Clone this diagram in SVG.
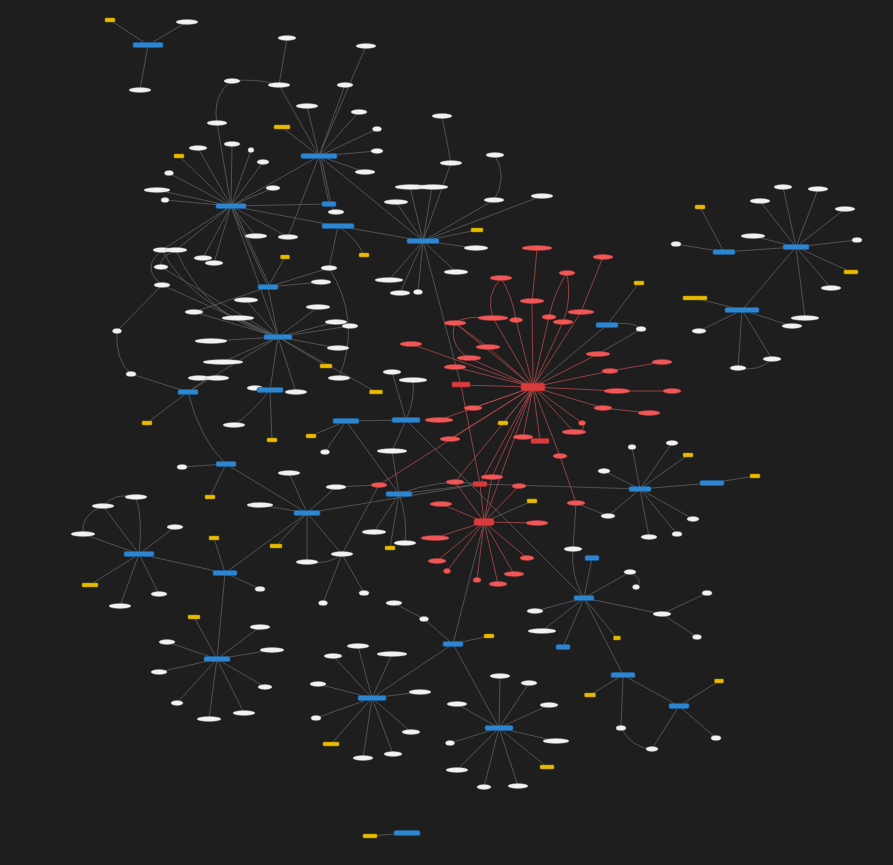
<svg xmlns="http://www.w3.org/2000/svg" width="893" height="865" viewBox="0 0 893 865">
<style>
.g{stroke:#5e5e5e;stroke-width:.8;fill:none}
.r{stroke:#b04a4a;stroke-width:.8;fill:none}
.w{fill:#f2f2f2;stroke:#a8a8a8;stroke-width:.4}
.b{fill:#2e86d1;stroke:#1d5f9c;stroke-width:.6}
.y{fill:#e9bb00;stroke:#a88700;stroke-width:.5}
.re{fill:#f05858;stroke:#c03c3c;stroke-width:.5}
.rr{fill:#d83c3c;stroke:#a82a2a;stroke-width:.6}
</style>
<rect width="893" height="865" fill="#1e1e1e"/>
<g id="edges">
<g class="g">
<path d="M148,45L110,20M148,45L187,22M148,45L140,90"/>
<path d="M319,156L279,85M319,156L345,85M319,156L307,106M319,156L359,112M319,156L282,127M319,156L377,129M319,156L377,151M319,156L365,172M319,156L366,46M287,38L279,85M232,81Q256,78 279,85M232,81Q212,95 217,123"/>
<path d="M319,156L231,206M319,156L329,204M321,156L331,204M319,156L288,237M319,156L423,241"/>
<path d="M231,206L217,123M231,206L179,156M231,206L198,148M231,206L232,144M231,206L251,150M231,206L263,162M231,206L169,173M231,206L157,190M231,206L273,188M231,206L165,200M231,206L329,204M231,206L338,226M231,206L256,236M231,206L288,237M231,206L162,250M231,206L176,250M231,206L203,258M231,206L214,263M231,206L268,287M233,206L270,287M231,206L278,337"/>
<path d="M338,226Q356,238 364,255M338,226L329,268M338,226L423,241M329,204L336,212"/>
<path d="M268,287L285,257M268,287L329,268M268,287L321,282M268,287L194,312M268,287L278,337"/>
<path d="M278,337L246,300M278,337L238,318M278,337L318,307M278,337L336,322M278,337L350,326M278,337L211,341M278,337L338,348M278,337L326,366M278,337L223,362M278,337L270,390M278,337L296,392M278,337L194,312M278,337L161,267M278,337L162,285M278,337L188,392M278,337L376,392"/>
<path d="M329,268Q362,320 339,378M162,250Q140,268 162,285M176,250Q158,258 161,267M162,285L117,331M117,331Q115,360 131,374M131,374L188,392M188,392L208,378M188,392L147,423M188,392Q200,440 226,464M270,390L255,388M270,390Q250,415 234,425M270,390L272,440M162,250Q190,305 278,337M176,250Q205,318 278,337"/>
<path d="M423,241L451,163M442,116L451,163M423,241L494,200M495,155Q508,178 494,200M423,241L542,196M423,241L396,202M423,241L410,187M423,241L432,187M423,241L477,230M423,241L476,248M423,241L456,272M423,241L389,280M423,241L400,293M423,241L418,292M423,241L461,385"/>
<path d="M796,247L783,187M796,247L818,189M796,247L760,201M796,247L845,209M796,247L857,240M796,247L753,236M796,247L851,272M796,247L831,288M796,247L805,318M724,252L700,207M724,252L676,244M724,252L796,247M742,310L695,298M742,310L699,331M742,310L738,368M742,310L772,359M742,310L792,326M742,310L796,247M738,368Q760,372 772,359"/>
<path d="M607,325L533,387M607,325L639,283M607,325Q632,320 641,329M641,329L598,354M503,423L533,387M484,522L532,501M484,522L453,644"/>
<path d="M406,420L392,372M406,420Q415,400 413,380M406,420L346,421M406,420L584,598M406,420L392,451M346,421L311,436M346,421L325,452M346,421L399,494M399,494L374,532M399,494L390,548M399,494Q408,520 405,543M399,494L480,484M399,494Q440,478 480,484M399,494L392,451"/>
<path d="M226,464L182,467M226,464L210,497M226,464L307,513M307,513L289,473M307,513L336,487M307,513L260,505M307,513L276,546M307,513L307,562M307,513L342,554M307,513L225,573M307,513L480,484M336,487L379,485M342,554L379,485M307,562Q330,565 342,554M342,554L323,603M342,554L364,593"/>
<path d="M139,554Q143,520 136,497M139,554L103,506M139,554L175,527M139,554L83,534M139,554L90,585M139,554L159,594M139,554L120,606M139,554L225,573M136,497Q115,492 103,506M103,506Q80,515 83,534M225,573L214,538M225,573L260,589M225,573L217,659"/>
<path d="M217,659L194,617M217,659L260,627M217,659L167,642M217,659L272,650M217,659L159,672M217,659L265,687M217,659L177,703M217,659L244,713M217,659L209,719"/>
<path d="M453,644L489,636M453,644L424,619M424,619L394,603M453,644L372,698M453,644L499,728"/>
<path d="M372,698L358,646M372,698L333,656M372,698L392,654M372,698L318,684M372,698L420,692M372,698L316,718M372,698L411,732M372,698L331,744M372,698L363,758M372,698L393,754"/>
<path d="M499,728L500,676M499,728L529,683M499,728L549,705M499,728L457,704M499,728L450,743M499,728L556,741M499,728L547,767M499,728L457,770M499,728L484,787M499,728L518,786"/>
<path d="M640,489L632,447M640,489L672,443M640,489L688,455M640,489L604,471M640,489L608,516M640,489L693,519M640,489L677,534M640,489L649,537M640,489L712,483M640,489L480,484M712,483L755,476M608,516L576,503"/>
<path d="M584,598Q570,575 573,549M584,598L592,558M584,598L630,572M630,572Q645,580 636,587M584,598L662,614M662,614L707,593M662,614L697,637M584,598L535,611M584,598L542,631M584,598L563,647M584,598L617,638M584,598L623,675M573,549L576,503"/>
<path d="M623,675L590,695M623,675L679,706M623,675L621,728M621,728Q632,748 652,749M679,706L652,749M679,706L719,681M679,706L716,738M370,836L407,833"/>
</g>
<g class="r">
<path d="M533,387L532,301M533,387L493,318M533,387L516,320M533,387L549,317M533,387L563,322M533,387L581,312M533,387L455,323M533,387L488,347M533,387L469,358M533,387L411,344M533,387L455,367M533,387L461,385M533,387L598,354M533,387L610,371M533,387L617,391M533,387L603,408M533,387L582,423M533,387L574,432M533,387L540,441M533,387L523,437M533,387L560,456M533,387L473,408M533,387L439,420M533,387L450,439M533,387L379,485M533,387L480,484M533,387L492,477M533,387L484,522M533,387L455,482"/>
<path d="M532,301Q535,275 537,248M603,257L581,312M567,273Q555,290 549,317M567,273Q572,300 563,322M501,278Q485,295 493,318M501,278Q512,295 516,320M455,323Q465,315 493,318M455,323L488,347M455,323Q448,345 469,358M662,362L610,371M672,391L617,391M649,413L603,408M582,423Q588,430 574,432M560,456L576,503M461,385L480,484"/>
<path d="M484,522L455,482M484,522L519,486M484,522L441,504M484,522L537,523M484,522L435,538M484,522L437,561M484,522L447,571M484,522L477,580M484,522L498,584M484,522L514,574M484,522L527,558M484,522L480,484M484,522L492,477"/>
</g>
</g>
<g id="nodes">
<g id="a1"><rect class="y" x="105" y="18" width="10" height="4" rx="1"/></g>
<g id="a2"><ellipse class="w" cx="187" cy="22" rx="11" ry="2.5"/></g>
<g id="a3"><rect class="b" x="133" y="42.5" width="30" height="5" rx="1.5"/></g>
<g id="a4"><ellipse class="w" cx="140" cy="90" rx="11" ry="2.5"/></g>
<g id="b0"><rect class="b" x="301" y="153.5" width="36" height="5" rx="1.5"/></g>
<g id="b1"><ellipse class="w" cx="287" cy="38" rx="9" ry="2.5"/></g>
<g id="b2"><ellipse class="w" cx="366" cy="46" rx="10" ry="2.5"/></g>
<g id="b3"><ellipse class="w" cx="279" cy="85" rx="11" ry="2.5"/></g>
<g id="b4"><ellipse class="w" cx="345" cy="85" rx="8" ry="2.5"/></g>
<g id="b5"><ellipse class="w" cx="307" cy="106" rx="11" ry="2.5"/></g>
<g id="b6"><ellipse class="w" cx="359" cy="112" rx="8" ry="2.5"/></g>
<g id="b7"><rect class="y" x="274" y="125" width="16" height="4" rx="1"/></g>
<g id="b8"><ellipse class="w" cx="377" cy="129" rx="4.5" ry="2.5"/></g>
<g id="b9"><ellipse class="w" cx="377" cy="151" rx="6" ry="2.5"/></g>
<g id="b10"><ellipse class="w" cx="365" cy="172" rx="10" ry="2.5"/></g>
<g id="b11"><ellipse class="w" cx="232" cy="81" rx="8" ry="2.5"/></g>
<g id="c0"><rect class="b" x="216" y="203.5" width="30" height="5" rx="1.5"/></g>
<g id="c1"><ellipse class="w" cx="217" cy="123" rx="10" ry="2.5"/></g>
<g id="c2"><rect class="y" x="174" y="154" width="10" height="4" rx="1"/></g>
<g id="c3"><ellipse class="w" cx="198" cy="148" rx="9" ry="2.5"/></g>
<g id="c4"><ellipse class="w" cx="232" cy="144" rx="8" ry="2.5"/></g>
<g id="c5"><ellipse class="w" cx="251" cy="150" rx="3" ry="2.5"/></g>
<g id="c6"><ellipse class="w" cx="263" cy="162" rx="6" ry="2.5"/></g>
<g id="c7"><ellipse class="w" cx="169" cy="173" rx="4.5" ry="2.5"/></g>
<g id="c8"><ellipse class="w" cx="157" cy="190" rx="13" ry="2.5"/></g>
<g id="c9"><ellipse class="w" cx="273" cy="188" rx="7" ry="2.5"/></g>
<g id="c10"><ellipse class="w" cx="165" cy="200" rx="4" ry="2.5"/></g>
<g id="c11"><rect class="b" x="322" y="201.5" width="14" height="5" rx="1.5"/></g>
<g id="c12"><ellipse class="w" cx="336" cy="212" rx="8" ry="2.5"/></g>
<g id="c13"><rect class="b" x="322" y="223.5" width="32" height="5" rx="1.5"/></g>
<g id="c14"><ellipse class="w" cx="256" cy="236" rx="11" ry="2.5"/></g>
<g id="c15"><ellipse class="w" cx="288" cy="237" rx="10" ry="2.5"/></g>
<g id="c16"><ellipse class="w" cx="162" cy="250" rx="9" ry="2.5"/></g>
<g id="c17"><ellipse class="w" cx="176" cy="250" rx="11" ry="2.5"/></g>
<g id="c18"><ellipse class="w" cx="203" cy="258" rx="9" ry="2.5"/></g>
<g id="c19"><ellipse class="w" cx="214" cy="263" rx="9" ry="2.5"/></g>
<g id="c20"><ellipse class="w" cx="161" cy="267" rx="7" ry="2.5"/></g>
<g id="c21"><ellipse class="w" cx="162" cy="285" rx="8" ry="2.5"/></g>
<g id="c22"><rect class="y" x="280.5" y="255" width="9" height="4" rx="1"/></g>
<g id="c23"><rect class="y" x="359" y="253" width="10" height="4" rx="1"/></g>
<g id="c24"><rect class="b" x="258" y="284.5" width="20" height="5" rx="1.5"/></g>
<g id="c25"><ellipse class="w" cx="329" cy="268" rx="8" ry="2.5"/></g>
<g id="c26"><ellipse class="w" cx="321" cy="282" rx="10" ry="2.5"/></g>
<g id="c27"><ellipse class="w" cx="246" cy="300" rx="12" ry="2.5"/></g>
<g id="c28"><ellipse class="w" cx="194" cy="312" rx="9" ry="2.5"/></g>
<g id="c29"><ellipse class="w" cx="238" cy="318" rx="16" ry="2.5"/></g>
<g id="c30"><ellipse class="w" cx="117" cy="331" rx="4.5" ry="2.5"/></g>
<g id="c31"><rect class="b" x="264" y="334.5" width="28" height="5" rx="1.5"/></g>
<g id="c32"><ellipse class="w" cx="318" cy="307" rx="12" ry="2.5"/></g>
<g id="c33"><ellipse class="w" cx="336" cy="322" rx="11" ry="2.5"/></g>
<g id="c34"><ellipse class="w" cx="350" cy="326" rx="8" ry="2.5"/></g>
<g id="c35"><ellipse class="w" cx="211" cy="341" rx="16" ry="2.5"/></g>
<g id="c36"><ellipse class="w" cx="338" cy="348" rx="11" ry="2.5"/></g>
<g id="c37"><rect class="y" x="320" y="364" width="12" height="4" rx="1"/></g>
<g id="c38"><ellipse class="w" cx="223" cy="362" rx="20" ry="2.5"/></g>
<g id="c39"><ellipse class="w" cx="131" cy="374" rx="5" ry="2.5"/></g>
<g id="c40"><ellipse class="w" cx="199" cy="378" rx="11" ry="2.5"/></g>
<g id="c41"><ellipse class="w" cx="217" cy="378" rx="12" ry="2.5"/></g>
<g id="c44"><ellipse class="w" cx="255" cy="388" rx="8" ry="2.5"/></g>
<g id="c42"><rect class="b" x="178" y="389.5" width="20" height="5" rx="1.5"/></g>
<g id="c43"><rect class="b" x="257" y="387.5" width="26" height="5" rx="1.5"/></g>
<g id="c45"><ellipse class="w" cx="296" cy="392" rx="11" ry="2.5"/></g>
<g id="c46"><ellipse class="w" cx="339" cy="378" rx="11" ry="2.5"/></g>
<g id="c47"><ellipse class="w" cx="392" cy="372" rx="9" ry="2.5"/></g>
<g id="c48"><rect class="y" x="369.5" y="390" width="13" height="4" rx="1"/></g>
<g id="c49"><ellipse class="w" cx="413" cy="380" rx="14" ry="2.5"/></g>
<g id="c50"><rect class="y" x="142" y="421" width="10" height="4" rx="1"/></g>
<g id="c51"><ellipse class="w" cx="234" cy="425" rx="11" ry="2.5"/></g>
<g id="c52"><rect class="y" x="267" y="438" width="10" height="4" rx="1"/></g>
<g id="d0"><rect class="b" x="407" y="238.5" width="32" height="5" rx="1.5"/></g>
<g id="d1"><ellipse class="w" cx="442" cy="116" rx="10" ry="2.5"/></g>
<g id="d2"><ellipse class="w" cx="451" cy="163" rx="11" ry="2.5"/></g>
<g id="d3"><ellipse class="w" cx="495" cy="155" rx="9" ry="2.5"/></g>
<g id="d4"><ellipse class="w" cx="494" cy="200" rx="10" ry="2.5"/></g>
<g id="d5"><ellipse class="w" cx="542" cy="196" rx="11" ry="2.5"/></g>
<g id="d6"><ellipse class="w" cx="396" cy="202" rx="12" ry="2.5"/></g>
<g id="d7"><ellipse class="w" cx="411" cy="187" rx="16" ry="2.5"/></g>
<g id="d8"><ellipse class="w" cx="433" cy="187" rx="15" ry="2.5"/></g>
<g id="d9"><rect class="y" x="471" y="228" width="12" height="4" rx="1"/></g>
<g id="d10"><ellipse class="w" cx="476" cy="248" rx="12" ry="2.5"/></g>
<g id="d11"><ellipse class="w" cx="456" cy="272" rx="12" ry="2.5"/></g>
<g id="d12"><ellipse class="w" cx="389" cy="280" rx="14" ry="2.5"/></g>
<g id="d13"><ellipse class="w" cx="400" cy="293" rx="10" ry="2.5"/></g>
<g id="d14"><ellipse class="w" cx="418" cy="292" rx="4.5" ry="2.5"/></g>
<g id="e0"><rect class="b" x="783" y="244.5" width="26" height="5" rx="1.5"/></g>
<g id="e1"><ellipse class="w" cx="783" cy="187" rx="9" ry="2.5"/></g>
<g id="e2"><ellipse class="w" cx="818" cy="189" rx="10" ry="2.5"/></g>
<g id="e3"><ellipse class="w" cx="760" cy="201" rx="10" ry="2.5"/></g>
<g id="e4"><ellipse class="w" cx="845" cy="209" rx="10" ry="2.5"/></g>
<g id="e5"><ellipse class="w" cx="857" cy="240" rx="5" ry="2.5"/></g>
<g id="e6"><ellipse class="w" cx="753" cy="236" rx="12" ry="2.5"/></g>
<g id="e7"><rect class="y" x="844" y="270" width="14" height="4" rx="1"/></g>
<g id="e8"><ellipse class="w" cx="831" cy="288" rx="10" ry="2.5"/></g>
<g id="e9"><ellipse class="w" cx="805" cy="318" rx="14" ry="2.5"/></g>
<g id="e10"><ellipse class="w" cx="792" cy="326" rx="10" ry="2.5"/></g>
<g id="f0"><rect class="b" x="713" y="249.5" width="22" height="5" rx="1.5"/></g>
<g id="f1"><rect class="y" x="695" y="205" width="10" height="4" rx="1"/></g>
<g id="f2"><ellipse class="w" cx="676" cy="244" rx="5" ry="2.5"/></g>
<g id="g0"><rect class="b" x="725" y="307.5" width="34" height="5" rx="1.5"/></g>
<g id="g1"><rect class="y" x="683" y="296" width="24" height="4" rx="1"/></g>
<g id="g2"><ellipse class="w" cx="699" cy="331" rx="7" ry="2.5"/></g>
<g id="g3"><ellipse class="w" cx="738" cy="368" rx="8" ry="2.5"/></g>
<g id="g4"><ellipse class="w" cx="772" cy="359" rx="9" ry="2.5"/></g>
<g id="r0"><rect class="rr" x="521" y="383" width="24" height="8" rx="2"/></g>
<g id="r1"><ellipse class="re" cx="537" cy="248" rx="15" ry="2.5"/></g>
<g id="r2"><ellipse class="re" cx="603" cy="257" rx="10" ry="2.5"/></g>
<g id="r3"><ellipse class="re" cx="501" cy="278" rx="11" ry="2.5"/></g>
<g id="r4"><ellipse class="re" cx="567" cy="273" rx="8" ry="2.5"/></g>
<g id="r5"><ellipse class="re" cx="532" cy="301" rx="12" ry="2.5"/></g>
<g id="r6"><ellipse class="re" cx="493" cy="318" rx="15" ry="2.5"/></g>
<g id="r7"><ellipse class="re" cx="516" cy="320" rx="6.5" ry="2.5"/></g>
<g id="r8"><ellipse class="re" cx="549" cy="317" rx="7" ry="2.5"/></g>
<g id="r9"><ellipse class="re" cx="563" cy="322" rx="10" ry="2.5"/></g>
<g id="r10"><ellipse class="re" cx="581" cy="312" rx="13" ry="2.5"/></g>
<g id="r11"><ellipse class="re" cx="455" cy="323" rx="11" ry="2.5"/></g>
<g id="r12"><ellipse class="re" cx="488" cy="347" rx="12" ry="2.5"/></g>
<g id="r13"><ellipse class="re" cx="469" cy="358" rx="12" ry="2.5"/></g>
<g id="r14"><ellipse class="re" cx="411" cy="344" rx="11" ry="2.5"/></g>
<g id="r15"><ellipse class="re" cx="455" cy="367" rx="11" ry="2.5"/></g>
<g id="r16"><rect class="rr" x="452" y="382" width="18" height="5" rx="1"/></g>
<g id="r17"><ellipse class="re" cx="598" cy="354" rx="12" ry="2.5"/></g>
<g id="r18"><ellipse class="re" cx="610" cy="371" rx="8" ry="2.5"/></g>
<g id="r19"><ellipse class="re" cx="662" cy="362" rx="10" ry="2.5"/></g>
<g id="r20"><ellipse class="re" cx="617" cy="391" rx="13" ry="2.5"/></g>
<g id="r21"><ellipse class="re" cx="672" cy="391" rx="9" ry="2.5"/></g>
<g id="r22"><ellipse class="re" cx="603" cy="408" rx="9" ry="2.5"/></g>
<g id="r23"><ellipse class="re" cx="649" cy="413" rx="11" ry="2.5"/></g>
<g id="r24"><ellipse class="re" cx="582" cy="423" rx="3.5" ry="2.5"/></g>
<g id="r25"><ellipse class="re" cx="574" cy="432" rx="12" ry="2.5"/></g>
<g id="r26"><rect class="rr" x="531" y="438.5" width="18" height="5" rx="1"/></g>
<g id="r27"><ellipse class="re" cx="523" cy="437" rx="10" ry="2.5"/></g>
<g id="r28"><ellipse class="re" cx="560" cy="456" rx="7" ry="2.5"/></g>
<g id="r29"><ellipse class="re" cx="473" cy="408" rx="9" ry="2.5"/></g>
<g id="r30"><ellipse class="re" cx="439" cy="420" rx="14" ry="2.5"/></g>
<g id="r31"><ellipse class="re" cx="450" cy="439" rx="10" ry="2.5"/></g>
<g id="h0"><rect class="b" x="596" y="322.5" width="22" height="5" rx="1.5"/></g>
<g id="h1"><rect class="y" x="634" y="281" width="10" height="4" rx="1"/></g>
<g id="h2"><ellipse class="w" cx="641" cy="329" rx="5" ry="2.5"/></g>
<g id="h3"><rect class="y" x="498" y="421" width="10" height="4" rx="1"/></g>
<g id="s0"><rect class="rr" x="474" y="518.5" width="20" height="7" rx="2"/></g>
<g id="s1"><ellipse class="re" cx="379" cy="485" rx="8" ry="2.5"/></g>
<g id="s2"><ellipse class="re" cx="455" cy="482" rx="9" ry="2.5"/></g>
<g id="s4"><ellipse class="re" cx="492" cy="477" rx="11" ry="2.5"/></g>
<g id="s3"><rect class="rr" x="473" y="481.5" width="14" height="5" rx="1"/></g>
<g id="s5"><ellipse class="re" cx="519" cy="486" rx="7" ry="2.5"/></g>
<g id="s6"><ellipse class="re" cx="441" cy="504" rx="11" ry="2.5"/></g>
<g id="s7"><ellipse class="re" cx="537" cy="523" rx="11" ry="2.5"/></g>
<g id="s8"><ellipse class="re" cx="435" cy="538" rx="14" ry="2.5"/></g>
<g id="s9"><ellipse class="re" cx="437" cy="561" rx="9" ry="2.5"/></g>
<g id="s10"><ellipse class="re" cx="447" cy="571" rx="3.5" ry="2.5"/></g>
<g id="s11"><ellipse class="re" cx="477" cy="580" rx="4" ry="2.5"/></g>
<g id="s12"><ellipse class="re" cx="498" cy="584" rx="9" ry="2.5"/></g>
<g id="s13"><ellipse class="re" cx="514" cy="574" rx="10" ry="2.5"/></g>
<g id="s14"><ellipse class="re" cx="527" cy="558" rx="7" ry="2.5"/></g>
<g id="s15"><ellipse class="re" cx="576" cy="503" rx="9" ry="2.5"/></g>
<g id="s16"><rect class="y" x="527" y="499" width="10" height="4" rx="1"/></g>
<g id="m0"><rect class="b" x="392" y="417.5" width="28" height="5" rx="1.5"/></g>
<g id="m1"><rect class="b" x="333" y="418.5" width="26" height="5" rx="1.5"/></g>
<g id="m2"><rect class="y" x="306" y="434" width="10" height="4" rx="1"/></g>
<g id="m3"><ellipse class="w" cx="325" cy="452" rx="4.5" ry="2.5"/></g>
<g id="m4"><ellipse class="w" cx="392" cy="451" rx="15" ry="2.5"/></g>
<g id="m5"><rect class="b" x="386" y="491.5" width="26" height="5" rx="1.5"/></g>
<g id="m6"><ellipse class="w" cx="374" cy="532" rx="12" ry="2.5"/></g>
<g id="m7"><rect class="y" x="385" y="546" width="10" height="4" rx="1"/></g>
<g id="m8"><ellipse class="w" cx="405" cy="543" rx="11" ry="2.5"/></g>
<g id="p1"><rect class="b" x="216" y="461.5" width="20" height="5" rx="1.5"/></g>
<g id="p2"><ellipse class="w" cx="182" cy="467" rx="5" ry="2.5"/></g>
<g id="p3"><rect class="y" x="205" y="495" width="10" height="4" rx="1"/></g>
<g id="p4"><rect class="b" x="294" y="510.5" width="26" height="5" rx="1.5"/></g>
<g id="p5"><ellipse class="w" cx="289" cy="473" rx="11" ry="2.5"/></g>
<g id="p6"><ellipse class="w" cx="336" cy="487" rx="10" ry="2.5"/></g>
<g id="p7"><ellipse class="w" cx="260" cy="505" rx="13" ry="2.5"/></g>
<g id="p8"><rect class="y" x="270" y="544" width="12" height="4" rx="1"/></g>
<g id="p9"><ellipse class="w" cx="307" cy="562" rx="11" ry="2.5"/></g>
<g id="p10"><ellipse class="w" cx="342" cy="554" rx="11" ry="2.5"/></g>
<g id="p11"><ellipse class="w" cx="323" cy="603" rx="4.5" ry="2.5"/></g>
<g id="p12"><ellipse class="w" cx="364" cy="593" rx="5" ry="2.5"/></g>
<g id="q0"><rect class="b" x="124" y="551.5" width="30" height="5" rx="1.5"/></g>
<g id="q1"><ellipse class="w" cx="136" cy="497" rx="11" ry="2.5"/></g>
<g id="q2"><ellipse class="w" cx="103" cy="506" rx="11" ry="2.5"/></g>
<g id="q3"><ellipse class="w" cx="175" cy="527" rx="8" ry="2.5"/></g>
<g id="q4"><ellipse class="w" cx="83" cy="534" rx="12" ry="2.5"/></g>
<g id="q5"><rect class="y" x="82" y="583" width="16" height="4" rx="1"/></g>
<g id="q6"><ellipse class="w" cx="159" cy="594" rx="8" ry="2.5"/></g>
<g id="q7"><ellipse class="w" cx="120" cy="606" rx="11" ry="2.5"/></g>
<g id="q8"><rect class="b" x="213" y="570.5" width="24" height="5" rx="1.5"/></g>
<g id="q9"><rect class="y" x="209" y="536" width="10" height="4" rx="1"/></g>
<g id="q10"><ellipse class="w" cx="260" cy="589" rx="5" ry="2.5"/></g>
<g id="t0"><rect class="b" x="204" y="656.5" width="26" height="5" rx="1.5"/></g>
<g id="t1"><rect class="y" x="188" y="615" width="12" height="4" rx="1"/></g>
<g id="t2"><ellipse class="w" cx="260" cy="627" rx="10" ry="2.5"/></g>
<g id="t3"><ellipse class="w" cx="167" cy="642" rx="8" ry="2.5"/></g>
<g id="t4"><ellipse class="w" cx="272" cy="650" rx="12" ry="2.5"/></g>
<g id="t5"><ellipse class="w" cx="159" cy="672" rx="8" ry="2.5"/></g>
<g id="t6"><ellipse class="w" cx="265" cy="687" rx="7" ry="2.5"/></g>
<g id="t7"><ellipse class="w" cx="177" cy="703" rx="6" ry="2.5"/></g>
<g id="t8"><ellipse class="w" cx="244" cy="713" rx="11" ry="2.5"/></g>
<g id="t9"><ellipse class="w" cx="209" cy="719" rx="12" ry="2.5"/></g>
<g id="u0"><rect class="b" x="443" y="641.5" width="20" height="5" rx="1.5"/></g>
<g id="u1"><rect class="y" x="484" y="634" width="10" height="4" rx="1"/></g>
<g id="u2"><ellipse class="w" cx="424" cy="619" rx="4.5" ry="2.5"/></g>
<g id="u3"><ellipse class="w" cx="394" cy="603" rx="8" ry="2.5"/></g>
<g id="v0"><rect class="b" x="358" y="695.5" width="28" height="5" rx="1.5"/></g>
<g id="v1"><ellipse class="w" cx="358" cy="646" rx="11" ry="2.5"/></g>
<g id="v2"><ellipse class="w" cx="333" cy="656" rx="9" ry="2.5"/></g>
<g id="v3"><ellipse class="w" cx="392" cy="654" rx="15" ry="2.5"/></g>
<g id="v4"><ellipse class="w" cx="318" cy="684" rx="8" ry="2.5"/></g>
<g id="v5"><ellipse class="w" cx="420" cy="692" rx="11" ry="2.5"/></g>
<g id="v6"><ellipse class="w" cx="316" cy="718" rx="5" ry="2.5"/></g>
<g id="v7"><ellipse class="w" cx="411" cy="732" rx="9" ry="2.5"/></g>
<g id="v8"><rect class="y" x="323" y="742" width="16" height="4" rx="1"/></g>
<g id="v9"><ellipse class="w" cx="363" cy="758" rx="10" ry="2.5"/></g>
<g id="v10"><ellipse class="w" cx="393" cy="754" rx="9" ry="2.5"/></g>
<g id="w0"><rect class="b" x="485" y="725.5" width="28" height="5" rx="1.5"/></g>
<g id="w1"><ellipse class="w" cx="500" cy="676" rx="10" ry="2.5"/></g>
<g id="w2"><ellipse class="w" cx="529" cy="683" rx="8" ry="2.5"/></g>
<g id="w3"><ellipse class="w" cx="549" cy="705" rx="9" ry="2.5"/></g>
<g id="w4"><ellipse class="w" cx="457" cy="704" rx="10" ry="2.5"/></g>
<g id="w5"><ellipse class="w" cx="450" cy="743" rx="4.5" ry="2.5"/></g>
<g id="w6"><ellipse class="w" cx="556" cy="741" rx="13" ry="2.5"/></g>
<g id="w7"><rect class="y" x="540" y="765" width="14" height="4" rx="1"/></g>
<g id="w8"><ellipse class="w" cx="457" cy="770" rx="11" ry="2.5"/></g>
<g id="w9"><ellipse class="w" cx="484" cy="787" rx="7" ry="2.5"/></g>
<g id="w10"><ellipse class="w" cx="518" cy="786" rx="10" ry="2.5"/></g>
<g id="x0"><rect class="b" x="629" y="486.5" width="22" height="5" rx="1.5"/></g>
<g id="x1"><ellipse class="w" cx="632" cy="447" rx="4" ry="2.5"/></g>
<g id="x2"><ellipse class="w" cx="672" cy="443" rx="6" ry="2.5"/></g>
<g id="x3"><rect class="y" x="683" y="453" width="10" height="4" rx="1"/></g>
<g id="x4"><ellipse class="w" cx="604" cy="471" rx="6" ry="2.5"/></g>
<g id="x5"><ellipse class="w" cx="608" cy="516" rx="7" ry="2.5"/></g>
<g id="x6"><ellipse class="w" cx="693" cy="519" rx="6" ry="2.5"/></g>
<g id="x7"><ellipse class="w" cx="677" cy="534" rx="5" ry="2.5"/></g>
<g id="x8"><ellipse class="w" cx="649" cy="537" rx="8" ry="2.5"/></g>
<g id="x9"><rect class="b" x="700" y="480.5" width="24" height="5" rx="1.5"/></g>
<g id="x10"><rect class="y" x="750" y="474" width="10" height="4" rx="1"/></g>
<g id="y0"><rect class="b" x="574" y="595.5" width="20" height="5" rx="1.5"/></g>
<g id="y1"><ellipse class="w" cx="573" cy="549" rx="9" ry="2.5"/></g>
<g id="y2"><rect class="b" x="585" y="555.5" width="14" height="5" rx="1.5"/></g>
<g id="y3"><ellipse class="w" cx="630" cy="572" rx="6" ry="2.5"/></g>
<g id="y4"><ellipse class="w" cx="636" cy="587" rx="3.5" ry="2.5"/></g>
<g id="y5"><ellipse class="w" cx="707" cy="593" rx="5" ry="2.5"/></g>
<g id="y6"><ellipse class="w" cx="662" cy="614" rx="9" ry="2.5"/></g>
<g id="y7"><ellipse class="w" cx="697" cy="637" rx="4.5" ry="2.5"/></g>
<g id="y8"><ellipse class="w" cx="535" cy="611" rx="8" ry="2.5"/></g>
<g id="y9"><ellipse class="w" cx="542" cy="631" rx="14" ry="2.5"/></g>
<g id="y10"><rect class="b" x="556" y="644.5" width="14" height="5" rx="1.5"/></g>
<g id="y11"><rect class="y" x="613.5" y="636" width="7" height="4" rx="1"/></g>
<g id="z0"><rect class="b" x="611" y="672.5" width="24" height="5" rx="1.5"/></g>
<g id="z1"><rect class="y" x="584.5" y="693" width="11" height="4" rx="1"/></g>
<g id="z2"><rect class="b" x="669" y="703.5" width="20" height="5" rx="1.5"/></g>
<g id="z3"><rect class="y" x="714.5" y="679" width="9" height="4" rx="1"/></g>
<g id="z4"><ellipse class="w" cx="621" cy="728" rx="5" ry="2.5"/></g>
<g id="z5"><ellipse class="w" cx="652" cy="749" rx="6" ry="2.5"/></g>
<g id="z6"><ellipse class="w" cx="716" cy="738" rx="5" ry="2.5"/></g>
<g id="k1"><rect class="y" x="363" y="834" width="14" height="4" rx="1"/></g>
<g id="k2"><rect class="b" x="394" y="830.5" width="26" height="5" rx="1.5"/></g>
</g>
</svg>
